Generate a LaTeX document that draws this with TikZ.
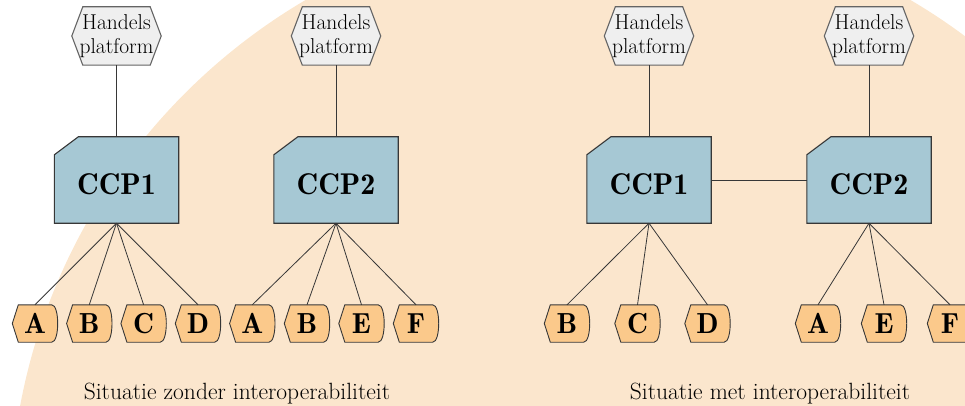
\documentclass[tikz,border=0pt]{standalone}
\usepackage{fontspec}
\newfontfamily\demifont{lmromandemi10-regular.otf}
\usetikzlibrary{backgrounds}
\definecolor{beige}{RGB}{251,230,205}
\definecolor{ccpblue}{RGB}{166,200,212}
\definecolor{hexgray}{RGB}{239,239,239}
\definecolor{partyor}{RGB}{251,201,139}
\definecolor{edgecol}{RGB}{55,55,55}
\definecolor{hexedge}{RGB}{100,100,100}
\begin{document}
\begin{tikzpicture}[x=1pt,y=-1pt,
 platform/.style={minimum width=89pt,minimum height=58pt,inner sep=0pt,align=center,font=\fontsize{21.5}{24.5}\selectfont},
 ccp/.style={minimum width=124pt,minimum height=86pt,inner sep=0pt,font=\demifont\fontsize{30}{32}\selectfont,text height=28pt,text depth=0pt},
 party/.style={minimum width=45pt,minimum height=37pt,inner sep=0pt,font=\demifont\fontsize{29}{31}\selectfont},
 link/.style={draw=edgecol,line width=0.8pt},
 caption/.style={font=\fontsize{23.5}{26}\selectfont,anchor=base,inner sep=0pt},
 hexshape/.style={fill=hexgray,draw=hexedge,line width=1.1pt,line join=miter},
 ccpshape/.style={fill=ccpblue,draw=edgecol,line width=1.1pt},
 partyshape/.style={fill=partyor,draw=edgecol,line width=0.9pt}
]
\path[use as bounding box] (0,0) rectangle (965,406);

% platforms
\node[platform] (h1) at (116.5,36) {Handels\\platform};
\node[platform] (h2) at (336,36) {Handels\\platform};
\node[platform] (h3) at (649,36) {Handels\\platform};
\node[platform] (h4) at (869,36) {Handels\\platform};

% CCPs
\node[ccp] (c1) at (116.5,180) {CCP1};
\node[ccp] (c2) at (336,180) {CCP2};
\node[ccp] (c3) at (649,180) {CCP1};
\node[ccp] (c4) at (869,180) {CCP2};

% parties left
\node[party] (pa1) at (35,323.5) {A};
\node[party] (pb1) at (89.3,323.5) {B};
\node[party] (pc1) at (143.6,323.5) {C};
\node[party] (pd1) at (198,323.5) {D};
\node[party] (pa2) at (252.3,323.5) {A};
\node[party] (pb2) at (307,323.5) {B};
\node[party] (pe2) at (361.5,323.5) {E};
\node[party] (pf2) at (416,323.5) {F};
% parties right
\node[party] (pb3) at (567,323.5) {B};
\node[party] (pc3) at (637.5,323.5) {C};
\node[party] (pd3) at (707.5,323.5) {D};
\node[party] (pa4) at (818,323.5) {A};
\node[party] (pe4) at (884,323.5) {E};
\node[party] (pf4) at (950,323.5) {F};

% captions
\node[caption] (cap1) at (237,399) {Situatie zonder interoperabiliteit};
\node[caption] (cap2) at (770,399) {Situatie met interoperabiliteit};

% connectors
\foreach \h/\c in {h1/c1,h2/c2,h3/c3,h4/c4}
  \draw[link] (\h.south) -- (\c.north);
\foreach \p in {pa1,pb1,pc1,pd1}
  \draw[link] (c1.south) -- (\p.north);
\foreach \p in {pa2,pb2,pe2,pf2}
  \draw[link] (c2.south) -- (\p.north);
\foreach \p in {pb3,pc3,pd3}
  \draw[link] (c3.south) -- (\p.north);
\foreach \p in {pa4,pe4,pf4}
  \draw[link] (c4.south) -- (\p.north);
\draw[link] (c3.east) -- (c4.west);

% shapes behind the texts
\begin{scope}[on background layer]
  \clip (0,0) rectangle (965,406);
  \fill[beige] (608,516) circle[radius=598pt];
  \foreach \n in {h1,h2,h3,h4}
    \path[hexshape] (\n.west) -- ([xshift=11pt]\n.north west) -- ([xshift=-11pt]\n.north east)
      -- (\n.east) -- ([xshift=-11pt]\n.south east) -- ([xshift=11pt]\n.south west) -- cycle;
  \foreach \n in {c1,c2,c3,c4}
    \path[ccpshape] (\n.south west) -- ([yshift=-18pt]\n.north west) -- ([xshift=24pt]\n.north west)
      -- (\n.north east) -- (\n.south east) -- cycle;
  \foreach \n in {pa1,pb1,pc1,pd1,pa2,pb2,pe2,pf2,pb3,pc3,pd3,pa4,pe4,pf4}
    \path[partyshape] (\n.west) -- ([xshift=6pt]\n.north west) -- ([xshift=-6pt]\n.north east)
      .. controls ([xshift=2pt]\n.north east) and ([xshift=2pt]\n.south east) .. ([xshift=-6pt]\n.south east)
      -- ([xshift=6pt]\n.south west) -- cycle;
\end{scope}
\end{tikzpicture}
\end{document}
